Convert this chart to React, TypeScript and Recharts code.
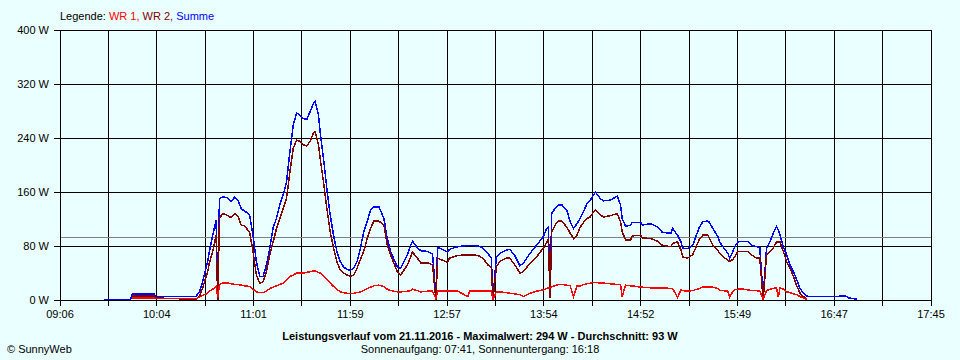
import { LineChart, Line, XAxis, YAxis, CartesianGrid, ReferenceLine } from 'recharts'

// Messzeitpunkte (hh:mm) und Leistung in W
const times = [
    '9:32', '9:48', '9:49', '10:02', '10:03', '10:27', '10:29', '10:31', '10:34', '10:35',
    '10:37', '10:39', '10:40', '10:41', '10:43', '10:46', '10:48', '10:50', '10:52', '10:54',
    '10:56', '10:59', '11:01', '11:03', '11:05', '11:07', '11:09', '11:11', '11:13', '11:15',
    '11:17', '11:19', '11:21', '11:23', '11:25', '11:27', '11:29', '11:31', '11:33', '11:35',
    '11:37', '11:38', '11:40', '11:41', '11:43', '11:45', '11:47', '11:49', '11:51', '11:53',
    '11:55', '11:57', '11:59', '12:01', '12:03', '12:05', '12:07', '12:09', '12:11', '12:13',
    '12:16', '12:19', '12:21', '12:23', '12:27', '12:29', '12:33', '12:35', '12:36', '12:39',
    '12:41', '12:45', '12:48', '12:50', '12:51', '12:54', '12:57', '12:58', '13:03', '13:09',
    '13:10', '13:15', '13:18', '13:21', '13:23', '13:24', '13:26', '13:28', '13:32', '13:34',
    '13:37', '13:40', '13:42', '13:46', '13:50', '13:54', '13:56', '13:57', '13:58', '13:59',
    '14:01', '14:03', '14:05', '14:08', '14:10', '14:12', '14:14', '14:16', '14:18', '14:20',
    '14:22', '14:24', '14:25', '14:28', '14:30', '14:34', '14:38', '14:40', '14:41', '14:43',
    '14:46', '14:47', '14:52', '14:53', '14:58', '15:02', '15:05', '15:10', '15:11', '15:14',
    '15:16', '15:17', '15:20', '15:23', '15:27', '15:29', '15:32', '15:33', '15:35', '15:38',
    '15:39', '15:41', '15:44', '15:45', '15:47', '15:48', '15:50', '15:53', '15:56', '15:58',
    '16:01', '16:03', '16:05', '16:07', '16:09', '16:11', '16:13', '16:14', '16:15', '16:17',
    '16:19', '16:21', '16:23', '16:25', '16:27', '16:29', '16:31', '16:33', '16:50', '16:51',
    '16:54', '16:56', '17:01'
]

const summe = [
    1, 1, 9, 9, 5, 5, 12, 27, 57, 72,
    96, 118, 3, 150, 153, 151, 146, 152, 148, 135,
    132, 126, 96, 57, 35, 35, 52, 77, 107, 121,
    141, 156, 175, 220, 259, 277, 274, 269, 267, 279,
    291, 294, 274, 249, 210, 165, 126, 96, 72, 57,
    49, 45, 44, 47, 57, 77, 101, 116, 133, 138,
    138, 121, 91, 72, 49, 47, 67, 81, 87, 77,
    73, 72, 68, 5, 78, 75, 71, 75, 79, 81,
    81, 80, 77, 69, 62, 2, 64, 69, 74, 75,
    66, 51, 54, 69, 81, 94, 106, 108, 5, 128,
    136, 141, 141, 133, 116, 106, 113, 121, 131, 143,
    148, 156, 160, 150, 147, 148, 154, 141, 121, 109,
    111, 115, 115, 111, 113, 108, 100, 99, 106, 96,
    86, 77, 76, 81, 108, 116, 117, 115, 106, 94,
    86, 79, 69, 62, 72, 79, 86, 87, 87, 81,
    79, 77, 4, 77, 86, 99, 109, 104, 96, 79,
    67, 52, 42, 30, 17, 10, 6, 5, 5, 6,
    6, 3, 1
]

const wr2 = [
    null, null, 6, 6, 3, 1, 5, 18, 42, 55,
    72, 96, 0, 121, 128, 125, 122, 128, 124, 111,
    110, 100, 72, 37, 25, 27, 42, 67, 86, 106,
    121, 136, 151, 190, 225, 237, 235, 230, 228, 235,
    247, 249, 230, 210, 175, 136, 101, 77, 57, 44,
    40, 37, 35, 37, 47, 60, 72, 91, 106, 117,
    117, 111, 81, 67, 42, 37, 52, 64, 71, 62,
    55, 55, 52, 0, 62, 59, 56, 62, 66, 67,
    67, 66, 62, 52, 48, 0, 49, 57, 62, 62,
    52, 40, 42, 54, 64, 77, 85, 91, 3, 101,
    111, 117, 117, 108, 99, 91, 96, 108, 115, 121,
    123, 131, 133, 126, 123, 125, 128, 116, 101, 89,
    89, 95, 96, 92, 91, 87, 81, 79, 84, 86,
    74, 64, 62, 67, 90, 96, 96, 91, 81, 74,
    69, 64, 59, 57, 60, 64, 72, 72, 72, 67,
    62, 62, 0, 67, 72, 77, 86, 86, 86, 72,
    57, 47, 35, 21, 10, 5, 2, null, null, null,
    null, null, null
]

const wr1 = [
    null, null, 3, 3, 2, 2, 4, 7, 10, 13,
    16, 20, 4, 23, 25, 25, 24, 23, 23, 22,
    21, 20, 16, 12, 11, 11, 13, 17, 19, 21,
    23, 25, 29, 35, 37, 40, 40, 40, 41, 42,
    43, 43, 41, 40, 36, 30, 25, 20, 16, 12,
    11, 10, 10, 10, 11, 12, 14, 17, 19, 21,
    22, 20, 16, 14, 12, 12, 13, 14, 16, 14,
    12, 13, 13, 2, 13, 13, 13, 13, 13, 5,
    13, 13, 13, 13, 13, 1, 12, 12, 11, 10,
    9, 8, 5, 10, 13, 15, 17, 18, 18, 20,
    21, 23, 23, 22, 21, 5, 21, 21, 23, 24,
    25, 26, 26, 25, 25, 24, 23, 23, 5, 22,
    21, 21, 19, 19, 18, 18, 18, 17, 17, 4,
    15, 14, 13, 14, 17, 19, 19, 19, 19, 17,
    14, 14, 13, 4, 13, 15, 16, 16, 15, 14,
    14, 13, 1, 14, 16, 17, 18, 4, 18, 16,
    12, 11, 9, 8, 5, 3, 1, null, null, null,
    null, null, null
]

const xLabels = ['09:06', '10:04', '11:01', '11:59', '12:57', '13:54', '14:52', '15:49', '16:47', '17:45']
const yTicks = [0, 80, 160, 240, 320, 400]
const durchschnitt = 93

const toMin = (s: string) => {
    const [h, m] = s.split(':').map(Number)
    return h * 60 + m
}

const data = times.map((t, i) => ({
    t: toMin(t),
    summe: summe[i],
    wr2: wr2[i],
    wr1: wr1[i],
}))

const xStart = toMin(xLabels[0])
const xEnd = toMin(xLabels[xLabels.length - 1])
// Gitterlinien: halbe Abstände zwischen den beschrifteten Zeiten
const xTicks = Array.from({ length: 19 }, (_, i) => xStart + (i * (xEnd - xStart)) / 18)

const FONT = '"Liberation Sans", Arial, sans-serif'
const BG = '#eaffff'

export default function App() {
    return (
        <div style={{ position: 'absolute', left: 0, top: 0, width: 960, height: 360, background: BG, fontFamily: FONT, overflow: 'hidden' }}>
            <div style={{ position: 'absolute', left: 60, top: 10, fontSize: 11, lineHeight: '13px', color: '#000' }}>
                Legende: <span style={{ color: '#ff0000' }}>WR 1, </span>
                <span style={{ color: '#800000' }}>WR 2, </span>
                <span style={{ color: '#0000ff' }}>Summe</span>
            </div>

            <LineChart
                width={960}
                height={360}
                data={data}
                margin={{ top: 30, right: 29, bottom: 40, left: 0 }}
                style={{ position: 'absolute', left: 0, top: 0, shapeRendering: 'crispEdges' }}
            >
                <CartesianGrid stroke="#000" strokeWidth={1} />
                <XAxis
                    dataKey="t"
                    type="number"
                    domain={[xStart, xEnd]}
                    ticks={xTicks}
                    interval={0}
                    height={20}
                    tickSize={6}
                    tickMargin={4}
                    axisLine={{ stroke: '#000' }}
                    tickLine={{ stroke: '#000' }}
                    tick={{ fill: '#000', fontSize: 11, fontFamily: FONT }}
                    tickFormatter={(v, i) => (i % 2 === 0 ? xLabels[i / 2] : '')}
                />
                <YAxis
                    type="number"
                    domain={[0, 400]}
                    ticks={yTicks}
                    interval={0}
                    width={60}
                    tickSize={6}
                    tickMargin={5}
                    axisLine={{ stroke: '#000' }}
                    tickLine={{ stroke: '#000' }}
                    tick={{ fill: '#000', fontSize: 11, fontFamily: FONT }}
                    tickFormatter={(v) => `${v} W`}
                />
                <ReferenceLine y={durchschnitt} stroke="#808080" strokeWidth={1} />
                <Line type="linear" dataKey="summe" stroke="#0000ff" strokeWidth={1.5} dot={false} isAnimationActive={false} />
                <Line type="linear" dataKey="wr2" stroke="#800000" strokeWidth={1.5} dot={false} isAnimationActive={false} />
                <Line type="linear" dataKey="wr1" stroke="#ff0000" strokeWidth={1.5} dot={false} isAnimationActive={false} />
            </LineChart>

            <div style={{ position: 'absolute', left: 0, width: 960, top: 330, textAlign: 'center', fontSize: 11, lineHeight: '13px', fontWeight: 'bold', color: '#000' }}>
                Leistungsverlauf vom 21.11.2016 - Maximalwert: 294 W - Durchschnitt: 93 W
            </div>
            <div style={{ position: 'absolute', left: 0, width: 960, top: 343, textAlign: 'center', fontSize: 11, lineHeight: '13px', color: '#000' }}>
                Sonnenaufgang: 07:41, Sonnenuntergang: 16:18
            </div>
            <div style={{ position: 'absolute', left: 7, top: 343, fontSize: 11, lineHeight: '13px', color: '#000' }}>
                © SunnyWeb
            </div>
        </div>
    )
}
